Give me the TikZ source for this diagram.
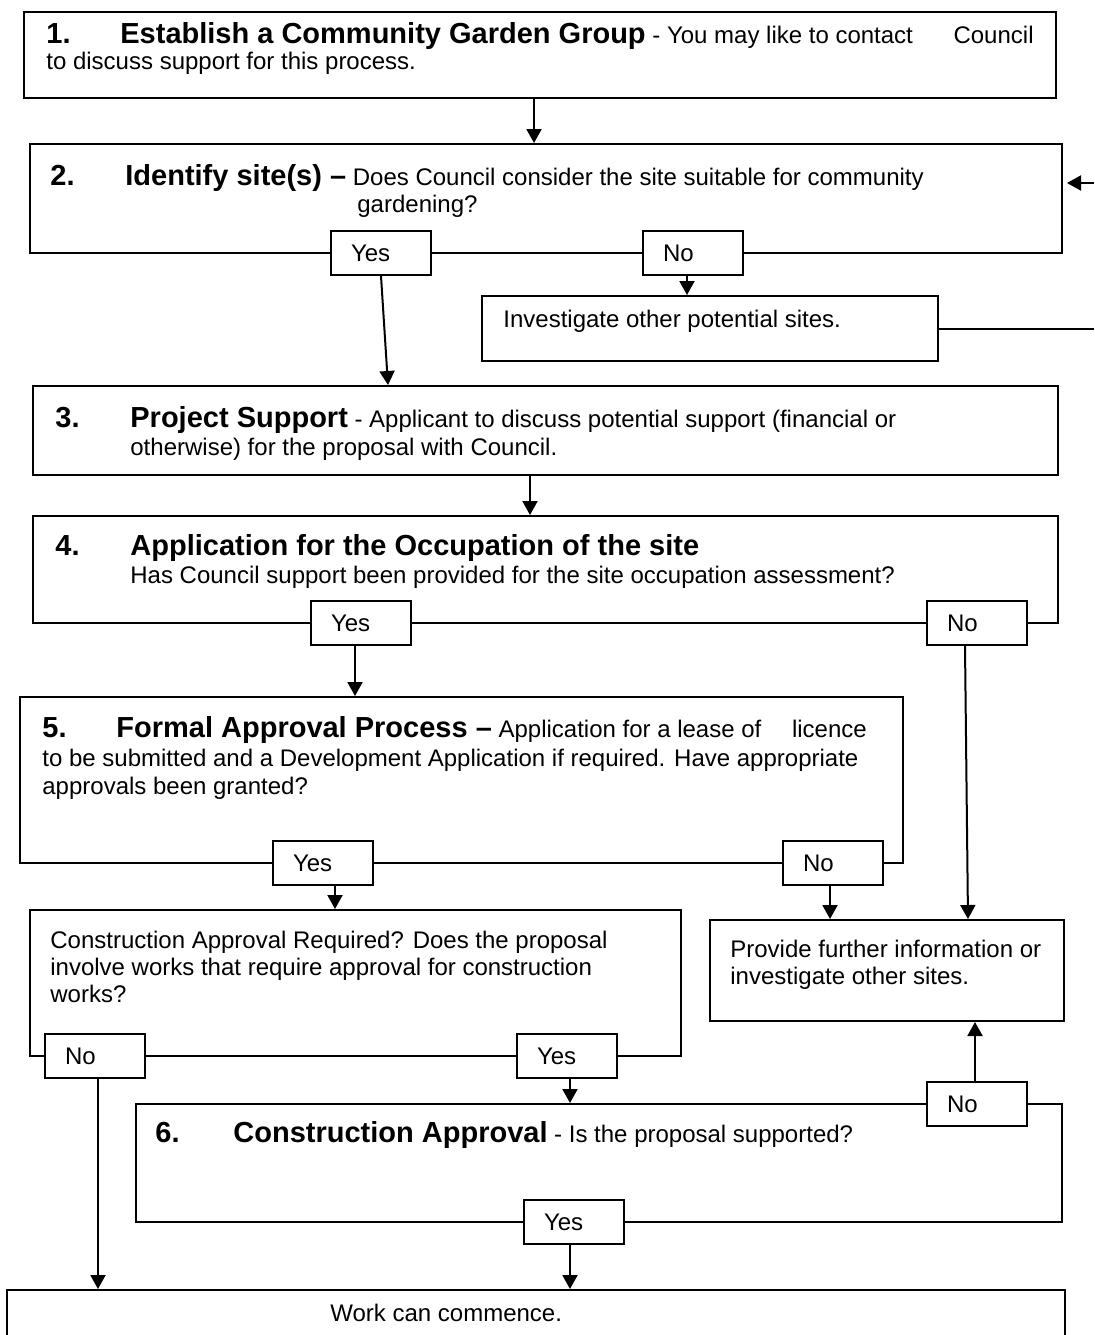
\documentclass[tikz,border=0pt]{standalone}
\usepackage{fontspec}
\setmainfont{Liberation Sans}
\usetikzlibrary{fit,arrows.meta}

\newcommand{\hd}{\fontsize{14.5}{17}\selectfont\bfseries}
\newcommand{\bd}{\fontsize{12}{14}\selectfont\mdseries}

\tikzset{
  box/.style={draw, line width=1pt, inner sep=0pt},
  lbl/.style={draw, line width=1pt, fill=white, anchor=west, minimum height=22pt,
    inner xsep=10pt, inner ysep=0pt, text width=30pt, align=left, font=\bd},
  txt/.style={anchor=base west, inner sep=0pt, font=\bd},
  arr/.style={line width=1pt, -{Triangle[width=7.5pt,length=7pt]}},
  lnk/.style={line width=1pt}
}

\begin{document}
\begin{tikzpicture}[x=0.5pt,y=-0.5pt]
\useasboundingbox (0,0) rectangle (1094,1335);

% step boxes
\node[box, fit={(24,12) (1056,98)}] (b1) {};
\node[box, fit={(30,144) (1062,253)}] (b2) {};
\node[box, fit={(482,296) (938,361)}] (inv) {};
\node[box, fit={(33,386) (1058,475)}] (b3) {};
\node[box, fit={(33,516) (1058,623)}] (b4) {};
\node[box, fit={(20,697) (903,863)}] (b5) {};
\node[box, fit={(30,910) (681,1056)}] (cons) {};
\node[box, fit={(710,920) (1064,1021)}] (prov) {};
\node[box, fit={(136,1104) (1062,1222)}] (b6) {};
\node[box, fit={(7,1290) (1065,1350)}] (work) {};

% texts
\node[txt] (t1a) at (46,43) {\hd\makebox[37pt][l]{1.}Establish a Community Garden Group\bd{} - You may like to contact\hspace{17pt} Council};
\node[txt] (t1b) at (46,69) {to discuss support for this process.};
\node[txt] (t2a) at (50,185) {\hd\makebox[37.5pt][l]{2.}Identify site(s) --\bd{} Does Council consider the site suitable for community};
\node[txt] (t2b) at (357,212) {gardening?};
\node[txt] (tinv) at (503,327) {Investigate other potential sites.};
\node[txt] (t3a) at (55,427) {\hd\makebox[37.5pt][l]{3.}Project Support\bd{} - Applicant to discuss potential support (financial or};
\node[txt] (t3b) at (130,455) {otherwise) for the proposal with Council.};
\node[txt] (t4a) at (55,555) {\hd\makebox[37.5pt][l]{4.}Application for the Occupation of the site};
\node[txt] (t4b) at (130,583) {Has Council support been provided for the site occupation assessment?};
\node[txt] (t5a) at (42,737) {\hd\makebox[37pt][l]{5.}Formal Approval Process --\bd{} Application for a lease of\hspace{12pt} licence};
\node[txt] (t5b) at (42,766) {to be submitted and a Development Application if required. Have appropriate};
\node[txt] (t5c) at (42,794) {approvals been granted?};
\node[txt] (tc1) at (50,948) {Construction Approval Required? Does the proposal};
\node[txt] (tc2) at (50,975) {involve works that require approval for construction};
\node[txt] (tc3) at (50,1002) {works?};
\node[txt] (tp1) at (730,957) {Provide further information or};
\node[txt] (tp2) at (730,984) {investigate other sites.};
\node[txt] (t6a) at (155,1142) {\hd\makebox[39pt][l]{6.}Construction Approval\bd{} - Is the proposal supported?};
\node[txt] (tw) at (330,1321) {Work can commence.};

% yes / no tabs
\node[lbl] (yes2) at (330,253) {Yes};
\node[lbl] (no2) at (642,253) {No};
\node[lbl] (yes4) at (310,623) {Yes};
\node[lbl] (no4) at (926,623) {No};
\node[lbl] (yes5) at (272,863) {Yes};
\node[lbl] (no5) at (782,863) {No};
\node[lbl] (noc) at (44,1056) {No};
\node[lbl] (yesc) at (516,1056) {Yes};
\node[lbl] (no6) at (926,1104) {No};
\node[lbl] (yes6) at (523,1222) {Yes};

\coordinate (back1) at (1094,328);
\coordinate (back2) at (1094,183);

% connectors
\draw[arr] (b1.south -| 534,0) -- (b2.north -| 534,0);
\draw[arr] (yes2.south) -- (b3.north -| 388,0);
\draw[arr] (no2.south -| 687,0) -- (inv.north -| 687,0);
\draw[lnk] (inv.east) -- (inv.east -| back1);
\draw[arr] (back2) -- ([xshift=2pt]b2.east |- back2);
\draw[arr] (b3.south -| 530,0) -- (b4.north -| 530,0);
\draw[arr] (yes4.south -| 355,0) -- (b5.north -| 355,0);
\draw[arr] (no4.south -| 965,0) -- (prov.north -| 968,0);
\draw[arr] (yes5.south -| 335,0) -- (cons.north -| 335,0);
\draw[arr] (no5.south -| 830,0) -- (prov.north -| 830,0);
\draw[arr] (noc.south -| 98,0) -- (work.north -| 98,0);
\draw[arr] (yesc.south -| 570,0) -- (b6.north -| 570,0);
\draw[arr] (no6.north -| 975,0) -- (prov.south -| 975,0);
\draw[arr] (yes6.south -| 570,0) -- (work.north -| 570,0);
\end{tikzpicture}
\end{document}
